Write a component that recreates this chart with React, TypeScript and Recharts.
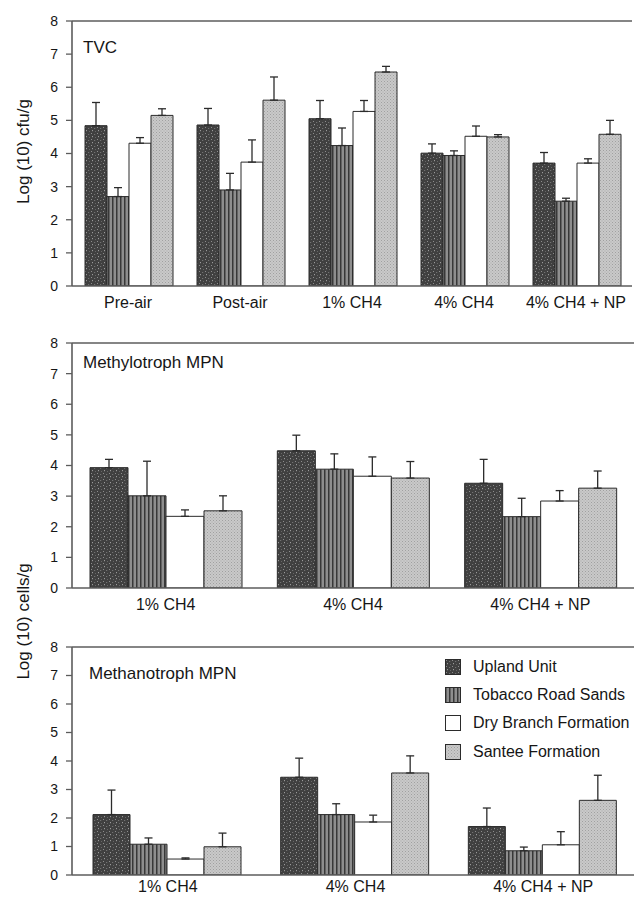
import React from 'react'
import { BarChart, Bar, XAxis, YAxis, ErrorBar, ReferenceLine, Legend } from 'recharts'

const seriesNames = ['Upland Unit', 'Tobacco Road Sands', 'Dry Branch Formation', 'Santee Formation']
const seriesKeys = ['upland', 'tobacco', 'dry', 'santee']
const yTicks = [0, 1, 2, 3, 4, 5, 6, 7, 8]

// TVC panel
const tvcCats = ['Pre-air', 'Post-air', '1% CH4', '4% CH4', '4% CH4 + NP']
const tvcUpland = [4.84, 4.86, 5.05, 4.01, 3.71]
const tvcUplandErr = [0.7, 0.5, 0.55, 0.28, 0.32]
const tvcTobacco = [2.7, 2.9, 4.24, 3.94, 2.56]
const tvcTobaccoErr = [0.27, 0.5, 0.53, 0.14, 0.09]
const tvcDry = [4.31, 3.74, 5.27, 4.52, 3.71]
const tvcDryErr = [0.17, 0.67, 0.33, 0.31, 0.13]
const tvcSantee = [5.15, 5.61, 6.46, 4.5, 4.58]
const tvcSanteeErr = [0.2, 0.7, 0.17, 0.07, 0.42]

// Methylotroph MPN panel
const mpnCats = ['1% CH4', '4% CH4', '4% CH4 + NP']
const metyUpland = [3.93, 4.48, 3.42]
const metyUplandErr = [0.27, 0.51, 0.78]
const metyTobacco = [3.01, 3.88, 2.33]
const metyTobaccoErr = [1.13, 0.5, 0.6]
const metyDry = [2.34, 3.65, 2.84]
const metyDryErr = [0.21, 0.63, 0.34]
const metySantee = [2.52, 3.59, 3.26]
const metySanteeErr = [0.49, 0.54, 0.56]

// Methanotroph MPN panel
const metaUpland = [2.12, 3.43, 1.7]
const metaUplandErr = [0.86, 0.67, 0.65]
const metaTobacco = [1.08, 2.12, 0.85]
const metaTobaccoErr = [0.22, 0.38, 0.13]
const metaDry = [0.56, 1.86, 1.06]
const metaDryErr = [0.04, 0.24, 0.46]
const metaSantee = [0.99, 3.58, 2.62]
const metaSanteeErr = [0.48, 0.6, 0.88]

const FONT = 'Arial, "Liberation Sans", Helvetica, sans-serif'
const INK = '#161616'
const AXIS = '#5c5c5c'

function buildRows(cats: string[], vals: number[][], errs: number[][]) {
  return cats.map((cat, i) => {
    const row: any = { cat }
    seriesKeys.forEach((k, s) => {
      row[k] = vals[s][i]
      row[k + 'Err'] = [0, errs[s][i]]
    })
    return row
  })
}

const tvcRows = buildRows(tvcCats, [tvcUpland, tvcTobacco, tvcDry, tvcSantee], [tvcUplandErr, tvcTobaccoErr, tvcDryErr, tvcSanteeErr])
const metyRows = buildRows(mpnCats, [metyUpland, metyTobacco, metyDry, metySantee], [metyUplandErr, metyTobaccoErr, metyDryErr, metySanteeErr])
const metaRows = buildRows(mpnCats, [metaUpland, metaTobacco, metaDry, metaSantee], [metaUplandErr, metaTobaccoErr, metaDryErr, metaSanteeErr])

function patternDefs(p: string) {
  return (
    <defs>
      <pattern id={`${p}-upland`} width={6} height={6} patternUnits="userSpaceOnUse">
        <rect width={6} height={6} fill="#404040" />
        <rect x={1} y={1} width={1} height={1} fill="#8c8c8c" />
        <rect x={4} y={2} width={1.2} height={1} fill="#727272" />
        <rect x={2} y={4} width={1} height={1.2} fill="#9a9a9a" />
        <rect x={5} y={5} width={1} height={1} fill="#666" />
      </pattern>
      <pattern id={`${p}-tobacco`} width={4} height={4} patternUnits="userSpaceOnUse">
        <rect width={4} height={4} fill="#8e8e8e" />
        <rect x={0} y={0} width={1.5} height={4} fill="#383838" />
      </pattern>
      <pattern id={`${p}-santee`} width={3} height={3} patternUnits="userSpaceOnUse">
        <rect width={3} height={3} fill="#c9c9c9" />
        <rect x={0} y={0} width={1} height={1} fill="#a0a0a0" />
        <rect x={1.5} y={1.5} width={1} height={1} fill="#aaaaaa" />
      </pattern>
    </defs>
  )
}

const fillsFor = (p: string) => [`url(#${p}-upland)`, `url(#${p}-tobacco)`, '#ffffff', `url(#${p}-santee)`]

function LegendBox() {
  return (
    <div style={{ fontFamily: FONT }}>
      {seriesNames.map((name, i) => (
        <div key={name} style={{ display: 'flex', alignItems: 'center', height: 28.2 }}>
          <svg width={16} height={16} style={{ display: 'block' }}>
            {patternDefs('lg' + i)}
            <rect x={0.5} y={0.5} width={15} height={15} fill={fillsFor('lg' + i)[i]} stroke="#2b2b2b" strokeWidth={1} />
          </svg>
          <span style={{ marginLeft: 12, fontSize: 16, color: INK, whiteSpace: 'nowrap' }}>{name}</span>
        </div>
      ))}
    </div>
  )
}

function Panel({ id, rows, top, width, height, rightMargin, padLeft, gap, labelGap, legend }: any) {
  const fills = fillsFor(id)
  return (
    <div style={{ position: 'absolute', left: 0, top }}>
      <BarChart width={width} height={height} data={rows} margin={{ top: 21, right: rightMargin, bottom: 0, left: 0 }} barCategoryGap={gap} barGap={0}>
        {patternDefs(id)}
        <XAxis
          dataKey="cat"
          height={30}
          interval={0}
          tickLine={false}
          tickSize={0}
          tickMargin={labelGap}
          padding={{ left: padLeft, right: 0 }}
          axisLine={{ stroke: AXIS, strokeWidth: 1.6 }}
          tick={{ fill: INK, fontSize: 16, fontFamily: FONT }}
        />
        <YAxis
          width={72}
          domain={[0, 8]}
          ticks={yTicks}
          allowDataOverflow
          tickSize={6}
          tickMargin={8}
          axisLine={{ stroke: AXIS, strokeWidth: 1.6 }}
          tickLine={{ stroke: AXIS, strokeWidth: 1.3 }}
          tick={{ fill: INK, fontSize: 14, fontFamily: FONT }}
        />
        <ReferenceLine y={8} stroke={AXIS} strokeWidth={1.6} />
        {seriesKeys.map((k, i) => (
          <Bar key={k} dataKey={k} name={seriesNames[i]} fill={fills[i]} stroke="#2b2b2b" strokeWidth={1} isAnimationActive={false}>
            <ErrorBar dataKey={k + 'Err'} width={4} stroke="#2b2b2b" strokeWidth={1.3} direction="y" />
          </Bar>
        ))}
        {legend && (
          <Legend
            layout="vertical"
            align="center"
            verticalAlign="middle"
            wrapperStyle={{ left: 445, top: 27, width: 200 }}
            content={() => <LegendBox />}
          />
        )}
      </BarChart>
    </div>
  )
}

const titleStyle: React.CSSProperties = { position: 'absolute', fontFamily: FONT, fontSize: 17, lineHeight: 1, color: INK, whiteSpace: 'nowrap' }

export default function App() {
  return (
    <div style={{ position: 'absolute', left: 0, top: 0, width: 634, height: 899, overflow: 'hidden', background: '#fff' }}>
      <Panel id="tvc" rows={tvcRows} top={0} width={634} height={316} rightMargin={2} padLeft={0} gap={13} labelGap={11} />
      <Panel id="mety" rows={metyRows} top={322} width={634} height={296} rightMargin={0} padLeft={0} gap={18} labelGap={11} />
      <Panel id="meta" rows={metaRows} top={626} width={640} height={279} rightMargin={3} padLeft={2} gap={19} labelGap={6} legend />
      <div style={{ ...titleStyle, left: 83, top: 39 }}>TVC</div>
      <div style={{ ...titleStyle, left: 83, top: 354 }}>Methylotroph MPN</div>
      <div style={{ ...titleStyle, left: 89, top: 665 }}>Methanotroph MPN</div>
      <svg width={634} height={899} style={{ position: 'absolute', left: 0, top: 0, pointerEvents: 'none' }}>
        <text transform="rotate(-90)" x={-151.5} y={29} textAnchor="middle" fontFamily={FONT} fontSize={17} fill={INK}>Log (10) cfu/g</text>
        <text transform="rotate(-90)" x={-621.5} y={29} textAnchor="middle" fontFamily={FONT} fontSize={17} fill={INK}>Log (10) cells/g</text>
      </svg>
    </div>
  )
}
